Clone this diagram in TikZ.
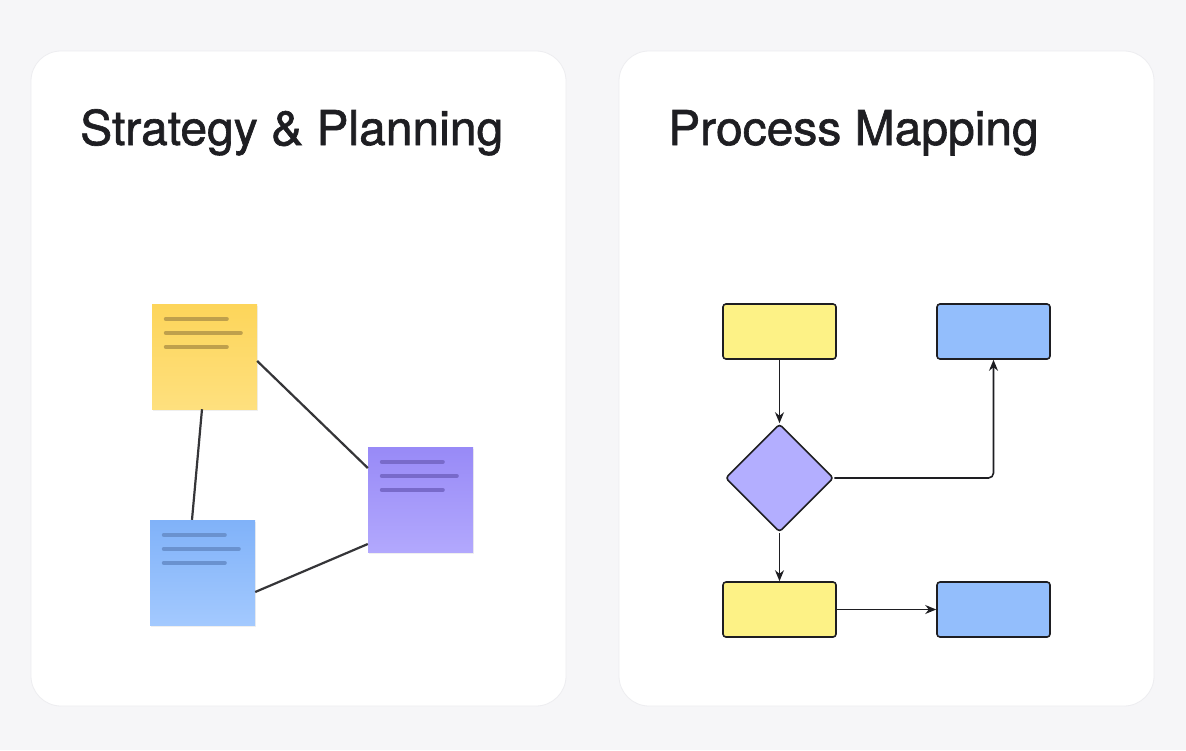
\documentclass[tikz,border=0pt]{standalone}
\usepackage{fontspec}
\setmainfont{TeX Gyre Heros}
\newfontfamily\titlefont[FakeBold=1.3]{TeX Gyre Heros}
\usetikzlibrary{shapes.geometric,arrows.meta,positioning,shadows}
\definecolor{pagebg}{HTML}{F6F6F8}
\definecolor{cardedge}{HTML}{EDEDF0}
\definecolor{inkdark}{HTML}{1E1E22}
\definecolor{yeltop}{HTML}{FDD55A}
\definecolor{yelbot}{HTML}{FEE07E}
\definecolor{yelline}{HTML}{BFA04C}
\definecolor{purtop}{HTML}{988AF7}
\definecolor{purbot}{HTML}{B2A8FD}
\definecolor{purline}{HTML}{786ACA}
\definecolor{blutop}{HTML}{80B2F9}
\definecolor{blubot}{HTML}{A3C9FE}
\definecolor{bluline}{HTML}{6A92CF}
\definecolor{flowyel}{HTML}{FDF286}
\definecolor{flowblu}{HTML}{93BEFC}
\definecolor{flowpur}{HTML}{B3AEFF}
\tikzset{
  card/.style={draw=cardedge, fill=white, rounded corners=30pt, line width=0.8pt},
  cardtitle/.style={anchor=base west, inner sep=0pt, text=inkdark,
    font=\titlefont\fontsize{48}{56}\selectfont},
  stickynote/.style 2 args={
    top color=#1, bottom color=#2, minimum width=105pt, minimum height=105pt,
    inner sep=0pt, drop shadow={opacity=0.12, shadow xshift=0.5pt, shadow yshift=-1.5pt}
  },
  noteline/.style={draw=#1, line width=4pt, line cap=round},
  stickylink/.style={draw=inkdark!90, line width=2.2pt},
  flowbox/.style={
    draw=inkdark, fill=#1, rounded corners=3pt, line width=1.6pt,
    minimum width=113pt, minimum height=55pt, inner sep=0pt
  },
  flowdiamond/.style={
    diamond, draw=inkdark, fill=flowpur, rounded corners=3pt, line width=1.6pt,
    minimum width=108pt, minimum height=108pt, inner sep=0pt
  },
  flowarr/.style={-{Stealth[length=11pt,width=9pt]}, draw=inkdark, line width=1.6pt}
}
\begin{document}
\begin{tikzpicture}[x=1pt,y=-1pt]
  \useasboundingbox (0,0) rectangle (1186,750);
  \fill[pagebg] (0,0) rectangle (1186,750);

  % cards
  \draw[card] (31,51) rectangle (566,706);
  \draw[card] (619,51) rectangle (1154,706);
  \node[cardtitle] (strattitle) at (80,145) {Strategy \& Planning};
  \node[cardtitle] (proctitle)  at (668,145) {Process Mapping};

  % sticky notes
  \node[stickynote={yeltop}{yelbot}] (yelnote) at (204.5,356.5) {};
  \node[stickynote={purtop}{purbot}] (purnote) at (420.5,499.5) {};
  \node[stickynote={blutop}{blubot}] (blunote) at (202.5,572.5) {};

  \foreach \n/\c in {yelnote/yelline, purnote/purline, blunote/bluline} {
    \draw[noteline=\c] ([xshift=14pt,yshift=-15pt]\n.north west) -- ++(61,0);
    \draw[noteline=\c] ([xshift=14pt,yshift=-29pt]\n.north west) -- ++(75,0);
    \draw[noteline=\c] ([xshift=14pt,yshift=-43pt]\n.north west) -- ++(61,0);
  }

  \draw[stickylink] ([yshift=-4.5pt]yelnote.east) -- ([yshift=31.5pt]purnote.west);
  \draw[stickylink] ([xshift=-2.5pt]yelnote.south) -- ([xshift=-10.5pt]blunote.north);
  \draw[stickylink] ([yshift=-19.5pt]blunote.east) -- ([yshift=-44.5pt]purnote.west);

  % process map
  \node[flowbox=flowyel] (start)  at (779.5,331.5) {};
  \node[flowbox=flowblu] (goal)   at (993.5,331.5) {};
  \node[flowdiamond]     (choice) at (779.5,478) {};
  \node[flowbox=flowyel] (step)   at (779.5,609.5) {};
  \node[flowbox=flowblu] (finish) at (993.5,609.5) {};

  \draw[flowarr] (start) -- (choice);
  \draw[flowarr] (choice) -- (step);
  \draw[flowarr, rounded corners=5pt] (choice.east) -| (goal.south);
  \draw[flowarr] (step) -- (finish);
\end{tikzpicture}
\end{document}
